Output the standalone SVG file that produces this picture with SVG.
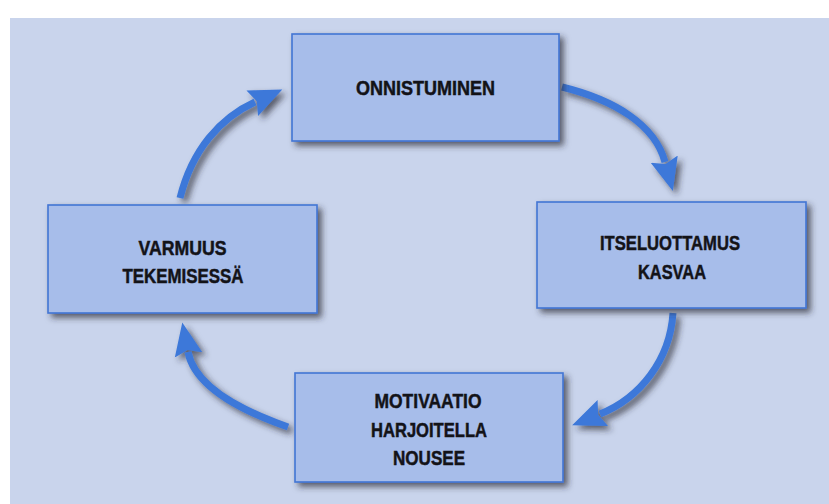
<svg xmlns="http://www.w3.org/2000/svg" width="829" height="504" viewBox="0 0 829 504">
  <defs>
    <style>
      .box { fill: #a7bdea; stroke: #4275d4; stroke-width: 1.6; }
      .lbl { font-family: "Liberation Sans", Arial, sans-serif; font-weight: bold; font-size: 21px; fill: #131318; stroke: #131318; stroke-width: 0.5; text-anchor: middle; }
      .arrow { fill: none; stroke: #3d78d9; stroke-width: 7; stroke-linecap: butt; }
    </style>
    <filter id="shadow" x="-20%" y="-20%" width="140%" height="140%">
      <feDropShadow dx="4" dy="4" stdDeviation="3" flood-color="#252535" flood-opacity="0.7"/>
    </filter>
    <marker id="head" markerUnits="userSpaceOnUse" markerWidth="40" markerHeight="34" refX="3" refY="0" viewBox="0 -17 40 34" orient="auto">
      <path d="M0,-14 L33,0 L0,14 L5,0 z" fill="#3d78d9"/>
    </marker>
  </defs>

  <rect x="0" y="0" width="829" height="504" fill="#ffffff"/>
  <rect x="10" y="18" width="819" height="486" fill="#c9d4ec"/>

  <g id="connectors" filter="url(#shadow)">
    <path class="arrow" d="M 562 87 C 615 100, 655 125, 665 162" marker-end="url(#head)"/>
    <path class="arrow" d="M 673 313 C 670 360, 640 398, 600 414" marker-end="url(#head)"/>
    <path class="arrow" d="M 288 427 C 245 412, 195 388, 188 352" marker-end="url(#head)"/>
    <path class="arrow" d="M 180 198 C 192 150, 220 118, 255 102" marker-end="url(#head)"/>
  </g>

  <g id="node-onnistuminen">
    <rect class="box" x="292" y="34" width="267" height="107" filter="url(#shadow)"/>
    <text class="lbl" x="425.5" y="95" textLength="139" lengthAdjust="spacingAndGlyphs">ONNISTUMINEN</text>
  </g>

  <g id="node-itseluottamus">
    <rect class="box" x="537" y="202" width="269" height="106" filter="url(#shadow)"/>
    <text class="lbl" x="670" y="250" textLength="140" lengthAdjust="spacingAndGlyphs">ITSELUOTTAMUS</text>
    <text class="lbl" x="672" y="279" textLength="68" lengthAdjust="spacingAndGlyphs">KASVAA</text>
  </g>

  <g id="node-motivaatio">
    <rect class="box" x="295" y="373" width="268" height="109" filter="url(#shadow)"/>
    <text class="lbl" x="428" y="408" textLength="107" lengthAdjust="spacingAndGlyphs">MOTIVAATIO</text>
    <text class="lbl" x="429" y="437" textLength="116" lengthAdjust="spacingAndGlyphs">HARJOITELLA</text>
    <text class="lbl" x="429" y="465" textLength="72" lengthAdjust="spacingAndGlyphs">NOUSEE</text>
  </g>

  <g id="node-varmuus">
    <rect class="box" x="48" y="205" width="269" height="108" filter="url(#shadow)"/>
    <text class="lbl" x="182.5" y="255" textLength="88" lengthAdjust="spacingAndGlyphs">VARMUUS</text>
    <text class="lbl" x="183" y="283" textLength="121" lengthAdjust="spacingAndGlyphs">TEKEMISESSÄ</text>
  </g>
</svg>
